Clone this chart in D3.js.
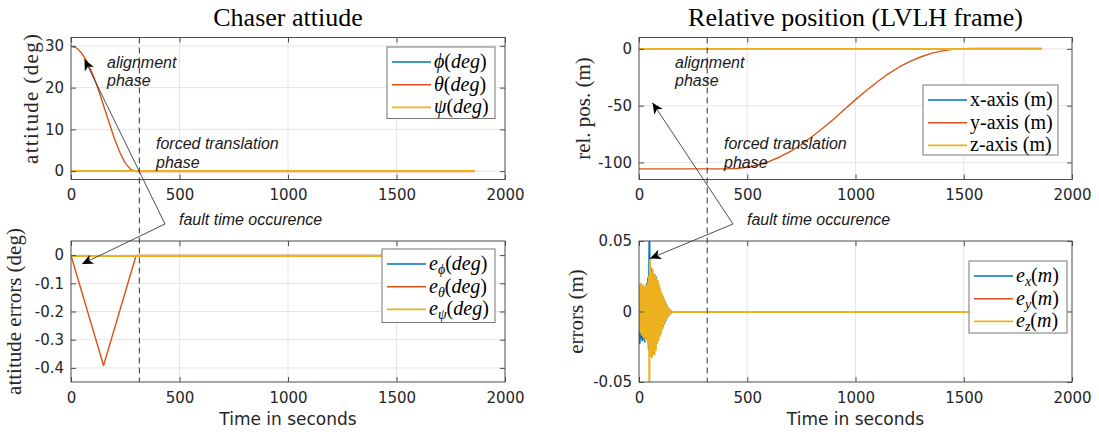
<!DOCTYPE html>
<html><head><meta charset="utf-8">
<script src="https://cdn.jsdelivr.net/npm/d3@7"></script>
<style>body{margin:0;background:#fff}svg{display:block}</style>
</head><body>
<svg id="c" width="1099" height="435"></svg>
<script>
// ---------- data ----------
const xTicks = [0, 500, 1000, 1500, 2000];
const xTickLabels = ["0", "500", "1000", "1500", "2000"];
const attTicks = [0, 10, 20, 30];
const attTickLabels = ["0", "10", "20", "30"];
const posTicks = [-100, -50, 0];
const posTickLabels = ["-100", "-50", "0"];
const attErrTicks = [-0.4, -0.3, -0.2, -0.1, 0];
const attErrTickLabels = ["-0.4", "-0.3", "-0.2", "-0.1", "0"];
const posErrTicks = [-0.05, 0, 0.05];
const posErrTickLabels = ["-0.05", "0", "0.05"];
const faultTime = 315;

// chaser attitude (deg)
const attTime = [0, 1860];
const phiDeg = [0, 0];
const thetaTime = [0, 25, 50, 75, 100, 125, 150, 175, 200, 225, 250, 275, 300, 1860];
const thetaDeg = [30, 29.6, 28.3, 26.2, 23.3, 19.8, 15.8, 11.8, 7.9, 4.6, 2.0, 0.5, 0, 0];
const psiDeg = [0, 0];

// attitude errors (deg)
const ePhiDeg = [0, 0];
const eThetaTime = [0, 150, 300, 1860];
const eThetaDeg = [0, -0.39, 0, 0];
const ePsiDeg = [0, 0];

// relative position (m)
const posTime = [0, 1860];
const xPos = [0, 0];
const yPosTime = [0, 300, 400, 450, 500, 550, 600, 650, 700, 750, 800, 850, 900, 950, 1000, 1050, 1100, 1150, 1200, 1250, 1300, 1350, 1400, 1450, 1500, 1530, 1860];
const yPos = [-106, -106, -106, -105.6, -104.5, -102.5, -99.5, -95.5, -90.5, -84.5, -77.5, -70, -62, -53.5, -45, -37, -29.5, -22.5, -16.5, -11.5, -7.5, -4.3, -2.1, -0.8, -0.2, 0, 0];
const zPos = [0, 0];

// position errors (m)
const ePosTime = [0,3,6,9,12,15,18,21,24,27,30,33,36,39,42,45,48,51,54,57,60,63,66,69,72,75,78,81,84,87,90,93,96,99,102,105,108,111,114,117,120,123,126,129,132,135,138,141,144,147,150,153,156,1860];
const eX = [0,-0.022,0.016,-0.018,0.017,-0.020,0.015,-0.019,0.017,-0.021,0.016,-0.018,0.020,-0.019,0.024,-0.026,0.050,-0.030,0.031,-0.031,0.029,-0.030,0.027,-0.028,0.026,-0.024,0.025,-0.022,0.021,-0.020,0.019,-0.017,0.016,-0.015,0.013,-0.012,0.011,-0.010,0.009,-0.008,0.007,-0.006,0.005,-0.004,0.003,-0.0025,0.002,-0.0015,0.001,-0.0006,0.0003,-0.0001,0,0];
const eYTime = [0,10,20,30,40,50,60,70,80,90,100,110,120,130,140,150,1860];
const eY = [0,0.003,-0.004,0.004,-0.005,0.006,-0.006,0.005,-0.005,0.004,-0.003,0.002,-0.002,0.001,-0.0005,0,0];
const eZ = [0,0.019,-0.014,0.020,-0.016,0.018,-0.017,0.019,-0.018,0.017,-0.020,0.018,-0.019,0.020,-0.022,0.025,-0.050,0.037,-0.030,0.028,-0.032,0.030,-0.028,0.027,-0.030,0.025,-0.027,0.024,-0.022,0.022,-0.020,0.019,-0.017,0.016,-0.014,0.013,-0.012,0.011,-0.009,0.008,-0.007,0.006,-0.005,0.004,-0.0035,0.003,-0.002,0.0015,-0.001,0.0007,-0.0004,0.0002,0,0];

// ---------- style ----------
const COL = ["#0072BD", "#D95319", "#EDB120"];
const TICKFONT = "'DejaVu Sans', sans-serif";
const SERIF = "'Liberation Serif', 'Times New Roman', serif";
const ANNOT = "'Liberation Sans', Arial, sans-serif";
const svg = d3.select("#c");
const zip = (a, b) => a.map((v, i) => [v, b[i]]);

function panel(cfg) {
  const x = d3.scaleLinear().domain([0, 2000]).range([cfg.x0, cfg.x1]);
  const y = d3.scaleLinear().domain(cfg.yDomain).range([cfg.y1, cfg.y0]);
  const g = svg.append("g");
  const clipId = "clip" + cfg.id;
  svg.append("clipPath").attr("id", clipId).append("rect")
    .attr("x", cfg.x0).attr("y", cfg.y0).attr("width", cfg.x1 - cfg.x0).attr("height", cfg.y1 - cfg.y0);
  // grid
  g.append("g").selectAll("line").data(xTicks.filter(t => x(t) > cfg.x0 + 1 && x(t) < cfg.x1 - 1)).join("line")
    .attr("x1", d => x(d)).attr("x2", d => x(d)).attr("y1", cfg.y0).attr("y2", cfg.y1)
    .attr("stroke", "#e5e5e5").attr("stroke-width", 1);
  g.append("g").selectAll("line").data(cfg.yTicks.filter(t => y(t) > cfg.y0 + 1 && y(t) < cfg.y1 - 1)).join("line")
    .attr("y1", d => y(d)).attr("y2", d => y(d)).attr("x1", cfg.x0).attr("x2", cfg.x1)
    .attr("stroke", "#e5e5e5").attr("stroke-width", 1);
  // series (zero level snapped to the pixel grid so overlapping flat lines stay crisp)
  const line = d3.line().x(d => x(d[0])).y(d => y(d[1]));
  const lw = cfg.lineWidth || 1.4;
  const off = lw >= 2 ? Math.round(y(0)) - y(0) : (Math.floor(y(0)) + 0.5) - y(0);
  const sg = g.append("g").attr("clip-path", `url(#${clipId})`).append("g").attr("transform", `translate(0,${off})`);
  cfg.series.forEach((s, i) => {
    const flat = s.v.every(v => v === s.v[0]);
    sg.append("path").datum(zip(s.t, s.v)).attr("d", line)
      .attr("fill", "none").attr("stroke", COL[i]).attr("stroke-width", flat ? 2 : lw)
      .attr("shape-rendering", flat ? "crispEdges" : "auto").attr("stroke-linejoin", "round");
  });
  // axes
  const styleAxis = a => {
    a.select(".domain").remove();
    a.selectAll("line").attr("stroke", "#4d4d4d");
    a.selectAll("text").attr("font-family", TICKFONT).attr("font-size", 15).attr("fill", "#262626");
  };
  g.append("g").attr("transform", `translate(0,${cfg.y1})`)
    .call(d3.axisBottom(x).tickValues(xTicks).tickFormat((d, i) => xTickLabels[i]).tickSizeInner(-5).tickSizeOuter(0).tickPadding(10))
    .call(styleAxis);
  g.append("g").attr("transform", `translate(0,${cfg.y0})`)
    .call(d3.axisTop(x).tickValues(xTicks).tickFormat("").tickSizeInner(-5).tickSizeOuter(0))
    .call(styleAxis);
  g.append("g").attr("transform", `translate(${cfg.x0},0)`)
    .call(d3.axisLeft(y).tickValues(cfg.yTicks).tickFormat((d, i) => cfg.yTickLabels[i]).tickSizeInner(-5).tickSizeOuter(0).tickPadding(7))
    .call(styleAxis);
  g.append("g").attr("transform", `translate(${cfg.x1},0)`)
    .call(d3.axisRight(y).tickValues(cfg.yTicks).tickFormat("").tickSizeInner(-5).tickSizeOuter(0))
    .call(styleAxis);
  g.append("rect").attr("x", cfg.x0).attr("y", cfg.y0).attr("width", cfg.x1 - cfg.x0).attr("height", cfg.y1 - cfg.y0)
    .attr("fill", "none").attr("stroke", "#4d4d4d").attr("stroke-width", 1);
  // y label
  const yl = svg.append("text").attr("transform", `translate(${cfg.ylabX},${cfg.ylabY}) rotate(-90)`)
    .attr("text-anchor", "middle").attr("font-family", SERIF).attr("font-size", 21)
    .attr("fill", "#262626").text(cfg.ylabel);
  if (cfg.ylabLen) yl.attr("textLength", cfg.ylabLen).attr("lengthAdjust", "spacing");
  // title
  if (cfg.title) {
    svg.append("text").attr("x", (cfg.x0 + cfg.x1) / 2).attr("y", 26).attr("text-anchor", "middle")
      .attr("font-family", SERIF).attr("font-size", 26).attr("fill", "#000").text(cfg.title);
  }
  // x label
  if (cfg.xlabel) {
    svg.append("text").attr("x", (cfg.x0 + cfg.x1) / 2).attr("y", 425).attr("text-anchor", "middle")
      .attr("font-family", TICKFONT).attr("font-size", 17).attr("fill", "#262626").text(cfg.xlabel);
  }
  // legend
  const L = cfg.legend;
  const lg = svg.append("g");
  lg.append("rect").attr("x", L.x).attr("y", L.y).attr("width", L.w).attr("height", L.h)
    .attr("fill", "#fff").attr("stroke", "#777").attr("stroke-width", 1);
  cfg.series.forEach((s, i) => {
    const cy = L.y + 15 + i * 22.7;
    lg.append("line").attr("x1", L.x + 5).attr("x2", L.x + 44).attr("y1", cy).attr("y2", cy)
      .attr("stroke", COL[i]).attr("stroke-width", 1.6);
    const t = lg.append("text").attr("x", L.x + 47).attr("y", cy + 6).attr("font-family", SERIF)
      .attr("font-size", 20).attr("fill", "#000");
    s.label.forEach(p => {
      const ts = t.append("tspan").text(p.s);
      if (p.i) ts.attr("font-style", "italic");
      if (p.sub) ts.attr("font-size", 14).attr("dy", 4);
      if (p.up) ts.attr("dy", -4);
    });
  });
  return { x, y };
}

const mathLab = (sym) => [{ s: sym, i: true }, { s: "(" }, { s: "deg", i: true }, { s: ")" }];
const subLab = (sub, unit) => [{ s: "e", i: true }, { s: sub, i: true, sub: true }, { s: "(", up: true }, { s: unit, i: true }, { s: ")" }];

const TL = panel({
  id: "tl", x0: 71, x1: 505, y0: 37.5, y1: 179.5, yDomain: [-2, 32], yTicks: attTicks, yTickLabels: attTickLabels,
  title: "Chaser attiude", ylabel: "attitude (deg)", ylabX: 38, ylabY: 99, ylabLen: 130,
  series: [
    { t: attTime, v: phiDeg, label: mathLab("\u03d5") },
    { t: thetaTime, v: thetaDeg, label: mathLab("\u03b8") },
    { t: attTime, v: psiDeg, label: mathLab("\u03c8") }
  ],
  legend: { x: 387, y: 47, w: 108, h: 71.5 }
});
const BL = panel({
  id: "bl", x0: 71, x1: 505, y0: 241, y1: 382, yDomain: [-0.45, 0.05], yTicks: attErrTicks, yTickLabels: attErrTickLabels,
  xlabel: "Time in seconds", ylabel: "attitude errors (deg)", ylabX: 21, ylabY: 311.5,
  series: [
    { t: attTime, v: ePhiDeg, label: subLab("\u03d5", "deg") },
    { t: eThetaTime, v: eThetaDeg, label: subLab("\u03b8", "deg") },
    { t: attTime, v: ePsiDeg, label: subLab("\u03c8", "deg") }
  ],
  legend: { x: 382, y: 249, w: 113, h: 73.5 }
});
const TR = panel({
  id: "tr", x0: 639, x1: 1072, y0: 37.5, y1: 179.5, yDomain: [-115, 10], yTicks: posTicks, yTickLabels: posTickLabels,
  title: "Relative position (LVLH frame)", ylabel: "rel. pos. (m)", ylabX: 590, ylabY: 108.5,
  series: [
    { t: posTime, v: xPos, label: [{ s: "x-axis (m)" }] },
    { t: yPosTime, v: yPos, label: [{ s: "y-axis (m)" }] },
    { t: posTime, v: zPos, label: [{ s: "z-axis (m)" }] }
  ],
  legend: { x: 923, y: 85, w: 135, h: 70 }
});
const BR = panel({
  id: "br", x0: 639, x1: 1072, y0: 241, y1: 382, yDomain: [-0.05, 0.05], yTicks: posErrTicks, yTickLabels: posErrTickLabels,
  xlabel: "Time in seconds", ylabel: "errors (m)", ylabX: 583, ylabY: 311.5, lineWidth: 2,
  series: [
    { t: ePosTime, v: eX, label: subLab("x", "m") },
    { t: eYTime, v: eY, label: subLab("y", "m") },
    { t: ePosTime, v: eZ, label: subLab("z", "m") }
  ],
  legend: { x: 969, y: 261, w: 98, h: 72 }
});

// ---------- annotations ----------
function arrow(x1, y1, x2, y2) {
  svg.append("line").attr("x1", x1).attr("y1", y1).attr("x2", x2).attr("y2", y2)
    .attr("stroke", "#3a3a3a").attr("stroke-width", 0.9);
  const a = Math.atan2(y2 - y1, x2 - x1) * 180 / Math.PI;
  svg.append("path").attr("d", "M0,0 L-11,-5 L-8,0 L-11,5 Z")
    .attr("transform", `translate(${x2},${y2}) rotate(${a})`).attr("fill", "#000");
}
function note(x, y, lines) {
  const t = svg.append("text").attr("font-family", ANNOT).attr("font-style", "italic").attr("font-size", 16).attr("fill", "#1a1a1a");
  lines.forEach((s, i) => t.append("tspan").attr("x", x).attr("y", y + i * 18.5).text(s));
}
[[TL, BL, 59.3, 264], [TR, BR, 102.7, 258.5]].forEach(([top, bot, tipY1, tipY2]) => {
  const xf = top.x(faultTime);
  svg.append("line").attr("x1", xf).attr("x2", xf).attr("y1", top.y.range()[1]).attr("y2", bot.y.range()[0])
    .attr("stroke", "#333").attr("stroke-width", 1).attr("stroke-dasharray", "6,4");
  const x0 = top.x(0);
  note(x0 + 36, 67.5, ["alignment", "phase"]);
  note(x0 + 85, 149, ["forced translation", "phase"]);
  note(x0 + 108, 225, ["fault time occurence"]);
  arrow(x0 + 94, 224, x0 + 13.5, tipY1);
  arrow(x0 + 94, 224, x0 + 11, tipY2);
});
</script>
</body></html>
